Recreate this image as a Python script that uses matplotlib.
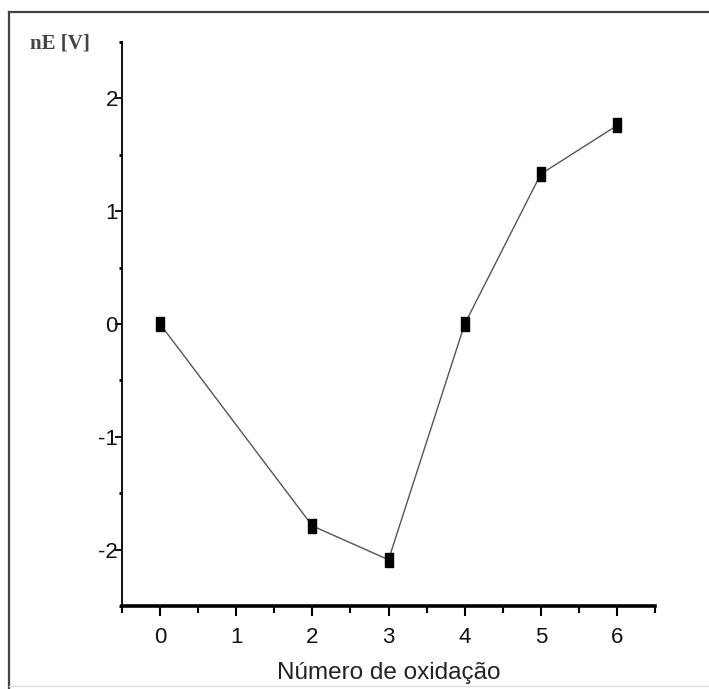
import matplotlib.pyplot as plt
import numpy as np
from matplotlib.lines import Line2D
from matplotlib.ticker import MultipleLocator

# oxidation number vs nE
oxidation = [0, 2, 3, 4, 5, 6]
nE = [0.0, -1.79, -2.09, 0.0, 1.33, 1.76]
x_ticks = [0, 1, 2, 3, 4, 5, 6]
y_ticks = [-2, -1, 0, 1, 2]

plt.rcParams['font.family'] = ['Liberation Sans', 'DejaVu Sans']
plt.rcParams['axes.unicode_minus'] = False

fig = plt.figure(figsize=(7.09, 6.89), dpi=100)
ax = fig.add_axes([0.172, 0.1205, 0.752, 0.8185])

# tall rectangular marker
bar_marker = np.array([[-0.31, -0.5], [0.31, -0.5], [0.31, 0.5], [-0.31, 0.5], [-0.31, -0.5]])
ax.plot(oxidation, nE, color='#555555', lw=1.0, marker=bar_marker,
        markersize=10, markerfacecolor='black', markeredgecolor='black', zorder=3)

ax.set_xlim(-0.5, 6.5)
ax.set_ylim(-2.5, 2.5)
ax.set_xticks(x_ticks)
ax.set_yticks(y_ticks)
ax.xaxis.set_minor_locator(MultipleLocator(0.5))
ax.yaxis.set_minor_locator(MultipleLocator(0.5))

for side in ['top', 'right']:
    ax.spines[side].set_visible(False)
ax.spines['left'].set_linewidth(1.3)
ax.spines['bottom'].set_linewidth(2.6)

ax.tick_params(axis='x', which='major', length=7, width=1.5, pad=8, labelsize=16,
               labelcolor='#111111')
ax.tick_params(axis='x', which='minor', length=5, width=1.5)
ax.tick_params(axis='y', which='major', length=5, width=1.3, pad=-2, labelsize=16,
               labelcolor='#111111')
ax.tick_params(axis='y', which='minor', length=2, width=2)

ax.set_xlabel('Número de oxidação', fontsize=17.5, color='#222222', labelpad=10)
fig.text(0.043, 0.937, 'nE [V]', fontsize=15, fontweight='bold',
         family=['Liberation Serif', 'DejaVu Serif'],
         color='#444444', ha='left', va='center')

# outer frame
fig.add_artist(Line2D([9 / 709, 1], [1 - 12 / 689, 1 - 12 / 689], color='#444444', lw=1.6,
                      transform=fig.transFigure))
fig.add_artist(Line2D([9 / 709, 9 / 709], [0, 1 - 12 / 689], color='#444444', lw=1.6,
                      transform=fig.transFigure))
fig.add_artist(Line2D([9 / 709, 1], [3 / 689, 3 / 689], color='#dddddd', lw=1.0,
                      transform=fig.transFigure))

fig.savefig('out.png', dpi=100)
